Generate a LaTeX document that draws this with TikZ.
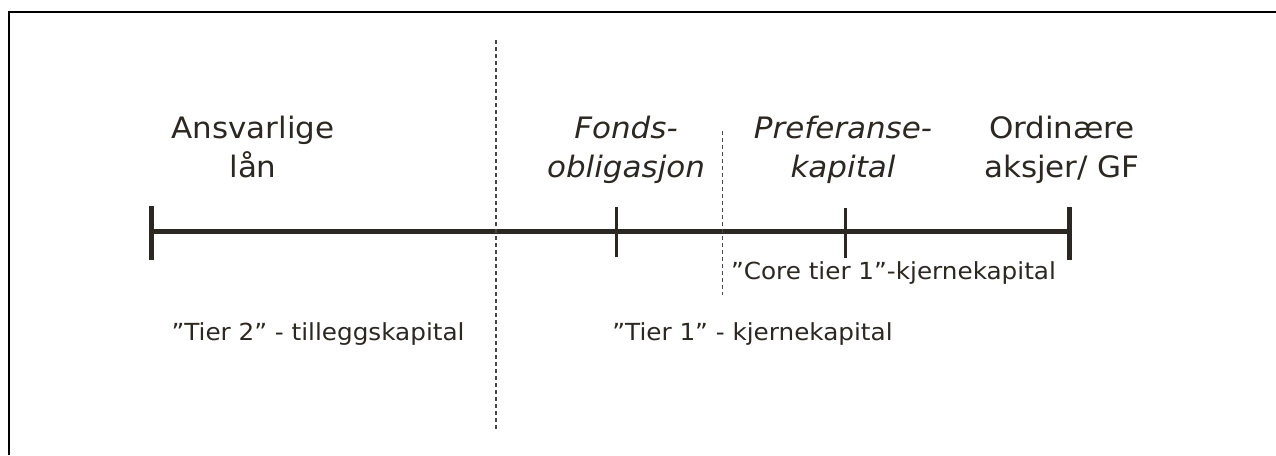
\documentclass[tikz,border=0pt]{standalone}
\usepackage{fontspec}
\setmainfont{DejaVu Sans}[FakeStretch=1.05]
\definecolor{ink}{HTML}{2B2722}
\begin{document}
\begin{tikzpicture}[x=1pt,y=-1pt,
  big/.style={text=ink, align=center, inner sep=0pt, font=\fontsize{29.5}{38.5}\selectfont, anchor=base},
  bigit/.style={big, font=\fontsize{29.5}{38.5}\selectfont\itshape},
  lab/.style={text=ink, inner sep=0pt, font=\fontsize{23.5}{28}\selectfont, anchor=base},
  axis/.style={draw=ink, line width=5pt},
  endcap/.style={draw=ink, line width=5pt},
  tick/.style={draw=ink, line width=2.5pt},
  divider/.style={draw=ink!85, line width=1.2pt, dash pattern=on 4pt off 3pt},
  frame/.style={draw=black, line width=2.5pt}]
\useasboundingbox (0,0) rectangle (1276,455);
\fill[white] (0,0) rectangle (1276,455);
% frame (left and top edges)
\draw[frame] (9,455) -- (9,12) -- (1276,12);
% axis coordinates
\coordinate (a0) at (151.5,231.5);
\coordinate (a1) at (1069.5,231.5);
\coordinate (t1) at (616.5,231.5);
\coordinate (t2) at (845.5,231.5);
\draw[axis] (a0) -- (a1);
\draw[endcap] ([yshift=-28.5pt]a0) -- ([yshift=25.5pt]a0);
\draw[endcap] ([yshift=-28.5pt]a1) -- ([yshift=25pt]a1);
\draw[tick] ([yshift=-25.5pt]t1) -- ([yshift=25pt]t1);
\draw[tick] ([yshift=-26.5pt]t2) -- ([yshift=24pt]t2);
% dividers
\coordinate (d1top) at (496,40);
\coordinate (d1bot) at (496,430);
\coordinate (d2top) at (722.5,131);
\coordinate (d2bot) at (722.5,295);
\draw[divider] (d1top) -- (d1bot);
\draw[divider] (d2top) -- (d2bot);
% labels (base anchor = baseline of the last line)
\node[big] (ansv) at (253,177) {Ansvarlige\\lån};
\node[bigit] (fonds) at (626,177) {Fonds-\\obligasjon};
\node[bigit] (pref) at (843,177) {Preferanse-\\kapital};
\node[big] (ord) at (1062,177) {Ordinære\\aksjer/ GF};
\node[lab] (tier2) at (318,340.5) {”Tier 2” - tilleggskapital};
\node[lab] (tier1) at (752.5,340.5) {”Tier 1” - kjernekapital};
\node[lab] (core) at (893.5,279.5) {”Core tier 1”-kjernekapital};
\end{tikzpicture}
\end{document}
